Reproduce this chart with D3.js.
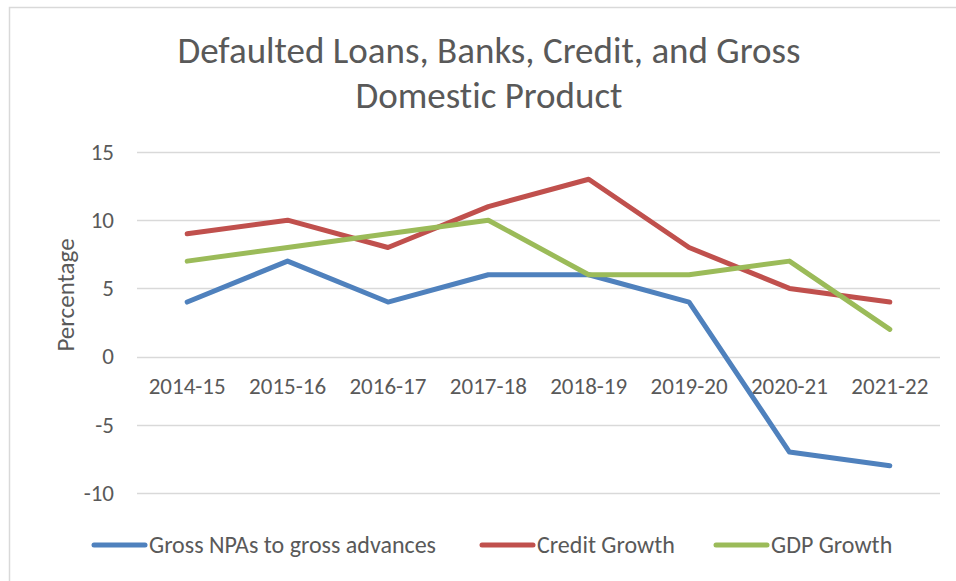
<!DOCTYPE html>
<html>
<head>
<meta charset="utf-8">
<script src="https://cdn.jsdelivr.net/npm/d3@7/dist/d3.min.js"></script>
<style>
	body { margin: 0; background: #fff; }
	text { font-family: Carlito, Lato, "Open Sans", sans-serif; fill: #595959; font-variant-ligatures: none; }
</style>
</head>
<body>
<div id="chart"></div>
<script>
var years = ["2014-15", "2015-16", "2016-17", "2017-18", "2018-19", "2019-20", "2020-21", "2021-22"];
var npaValues = [4, 7, 4, 6, 6, 4, -7, -8];
var creditValues = [9, 10, 8, 11, 13, 8, 5, 4];
var gdpValues = [7, 8, 9, 10, 6, 6, 7, 2];
var yTicks = [-10, -5, 0, 5, 10, 15];

var seriesNames = ["Gross NPAs to gross advances", "Credit Growth", "GDP Growth"];
var seriesColors = ["#4F81BD", "#C0504D", "#9BBB59"];
var seriesValues = [npaValues, creditValues, gdpValues];

var width = 956;
var height = 581;

var svg = d3.select("#chart")
	.append("svg")
	.attr("width", width)
	.attr("height", height);

// outer chart border (right/bottom fall outside the picture)
svg.append("rect")
	.attr("x", 9.5)
	.attr("y", 7.5)
	.attr("width", 960)
	.attr("height", 600)
	.attr("fill", "none")
	.attr("stroke", "#d9d9d9")
	.attr("stroke-width", 1.5);

var x = d3.scaleBand().domain(years).range([137, 940]);
var y = d3.scaleLinear().domain([-10, 15]).range([493, 152]);

// gridlines
svg.append("g")
	.selectAll("line")
	.data(yTicks)
	.enter()
	.append("line")
	.attr("x1", 137)
	.attr("x2", 940)
	.attr("y1", function(d) { return Math.round(y(d)) + 0.5; })
	.attr("y2", function(d) { return Math.round(y(d)) + 0.5; })
	.attr("stroke", "#d9d9d9")
	.attr("stroke-width", 1.5);

// y axis labels
var yAxis = svg.append("g")
	.attr("transform", "translate(114,0)")
	.call(d3.axisLeft(y).tickValues(yTicks).tickSize(0).tickPadding(0).tickFormat(function(d) { return String(d); }));
yAxis.select(".domain").remove();
yAxis.selectAll("text")
	.attr("font-size", 23)
	.attr("fill", "#595959")
	.attr("font-family", null)
	.attr("text-anchor", "end");

// x axis labels sit just under the zero line
var xAxis = svg.append("g")
	.attr("transform", "translate(0," + (y(0) + 21) + ")")
	.call(d3.axisBottom(x).tickSize(0).tickPadding(0));
xAxis.select(".domain").remove();
xAxis.selectAll("text")
	.attr("font-size", 23)
	.attr("fill", "#595959")
	.attr("font-family", null);

// y title
svg.append("text")
	.attr("transform", "translate(74,295) rotate(-90)")
	.attr("text-anchor", "middle")
	.attr("font-size", 25)
	.text("Percentage");

// title
var title = svg.append("text")
	.attr("text-anchor", "middle")
	.attr("font-size", 37);
title.append("tspan").attr("x", 489).attr("y", 63).text("Defaulted Loans, Banks, Credit, and Gross");
title.append("tspan").attr("x", 489).attr("y", 108).text("Domestic Product");

// lines
var line = d3.line()
	.x(function(d, i) { return x(years[i]) + x.bandwidth() / 2; })
	.y(function(d) { return y(d); });

var lines = svg.append("g").attr("class", "lines");
for (var i = 0; i < seriesValues.length; i++) {
	lines.append("path")
		.attr("d", line(seriesValues[i]))
		.attr("fill", "none")
		.attr("stroke", seriesColors[i])
		.attr("stroke-width", 5)
		.attr("stroke-linejoin", "round")
		.attr("stroke-linecap", "round");
}

// legend
var legendX = [92, 480, 714];
var legend = svg.append("g").attr("class", "legend");
for (var j = 0; j < seriesNames.length; j++) {
	legend.append("line")
		.attr("x1", legendX[j] + 2)
		.attr("x2", legendX[j] + 53)
		.attr("y1", 545)
		.attr("y2", 545)
		.attr("stroke", seriesColors[j])
		.attr("stroke-width", 5)
		.attr("stroke-linecap", "round");
	legend.append("text")
		.attr("x", legendX[j] + 57)
		.attr("y", 553)
		.attr("font-size", 24)
		.text(seriesNames[j]);
}
</script>
</body>
</html>
